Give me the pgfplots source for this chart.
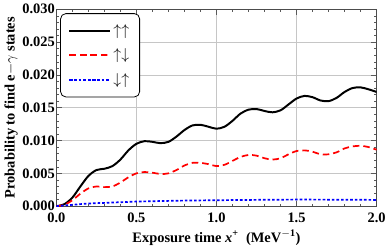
\documentclass[border=0pt]{standalone}
\usepackage{pgfplots}
\pgfplotsset{compat=1.18}
\usepackage{fontspec}
\setmainfont{Liberation Serif}
\begin{document}
\begin{tikzpicture}
\begin{axis}[
  scale only axis,
  width=244pt, height=150pt,
  xmin=0, xmax=2, ymin=0, ymax=0.030,
  xtick={0,0.5,1,1.5,2},
  ytick={0,0.005,0.010,0.015,0.020,0.025,0.030},
  minor x tick num=4,
  minor y tick num=4,
  tick align=inside,
  major tick length=4pt, minor tick length=2pt,
  tick style={gray!70!black, line width=0.4pt},
  grid=major,
  major grid style={gray!45, line width=0.5pt},
  axis line style={gray!60!black, line width=0.5pt},
  font=\bfseries\fontsize{11}{13}\selectfont,
  /pgf/number format/assume math mode=true,
  xticklabel style={yshift=-1.5pt, /pgf/number format/.cd, fixed, fixed zerofill, precision=1},
  yticklabel style={inner xsep=1pt, /pgf/number format/.cd, fixed, fixed zerofill, precision=3},
  scaled y ticks=false,
  xlabel={Exposure time \textit{x}\textsuperscript{+}\ \ (MeV\textsuperscript{$\mathbf{-}$1})},
  ylabel={Probability to find e$-\gamma$ states},
  xlabel style={yshift=1pt},
  ylabel style={yshift=-1pt},
  legend style={at={(0.012,0.98)}, anchor=north west, draw=black, line width=0.6pt,
    rounded corners=4pt, inner xsep=6pt, inner ysep=6pt,
    font=\fontsize{12}{14}\selectfont, row sep=5pt},
  legend cell align=left,
  legend image post style={xscale=1.8},
]
\addplot[black, line width=1.5pt, smooth] coordinates {
(0,0) (0.05,0.0003) (0.1,0.0013) (0.15,0.0030) (0.2,0.0046) (0.25,0.0055)
(0.3,0.0057) (0.35,0.0061) (0.4,0.0071) (0.45,0.0085) (0.5,0.0095) (0.55,0.0099)
(0.6,0.0098) (0.65,0.0096) (0.7,0.0098) (0.75,0.0106) (0.8,0.0116) (0.85,0.0123)
(0.9,0.0124) (0.95,0.0121) (1.0,0.0118) (1.05,0.0121) (1.1,0.0130) (1.15,0.0141)
(1.2,0.0147) (1.25,0.0148) (1.3,0.0145) (1.35,0.0143) (1.4,0.0146) (1.45,0.0155)
(1.5,0.0164) (1.55,0.0168) (1.6,0.0166) (1.65,0.0161) (1.7,0.0160) (1.75,0.0165)
(1.8,0.0174) (1.85,0.0180) (1.9,0.0181) (1.95,0.0178) (2.0,0.0174)
};
\addlegendentry{$\uparrow\uparrow$}
\addplot[color=red, line width=1.3pt, dash pattern=on 5pt off 3pt, smooth] coordinates {
(0,0) (0.05,0.0002) (0.1,0.0009) (0.15,0.0019) (0.2,0.0027) (0.25,0.0030)
(0.3,0.0029) (0.35,0.0030) (0.4,0.0036) (0.45,0.0044) (0.5,0.0050) (0.55,0.0052)
(0.6,0.0051) (0.65,0.0049) (0.7,0.0050) (0.75,0.0055) (0.8,0.0062) (0.85,0.0066)
(0.9,0.0066) (0.95,0.0064) (1.0,0.0061) (1.05,0.0063) (1.1,0.0069) (1.15,0.0075)
(1.2,0.0078) (1.25,0.0077) (1.3,0.0073) (1.35,0.0071) (1.4,0.0073) (1.45,0.0079)
(1.5,0.0084) (1.55,0.0085) (1.6,0.0083) (1.65,0.0079) (1.7,0.0079) (1.75,0.0082)
(1.8,0.0088) (1.85,0.0091) (1.9,0.0092) (1.95,0.0090) (2.0,0.0086)
};
\addlegendentry{$\uparrow\downarrow$}
\addplot[color=blue, line width=1.3pt, dash pattern=on 2pt off 1.5pt, smooth] coordinates {
(0,0) (0.1,0.0002) (0.2,0.0004) (0.3,0.0005) (0.4,0.0006) (0.5,0.0007)
(0.6,0.00075) (0.8,0.00085) (1.0,0.0009) (1.2,0.00095) (1.5,0.0010)
(1.8,0.00098) (2.0,0.00095)
};
\addlegendentry{$\downarrow\uparrow$}
\end{axis}
\end{tikzpicture}
\end{document}
